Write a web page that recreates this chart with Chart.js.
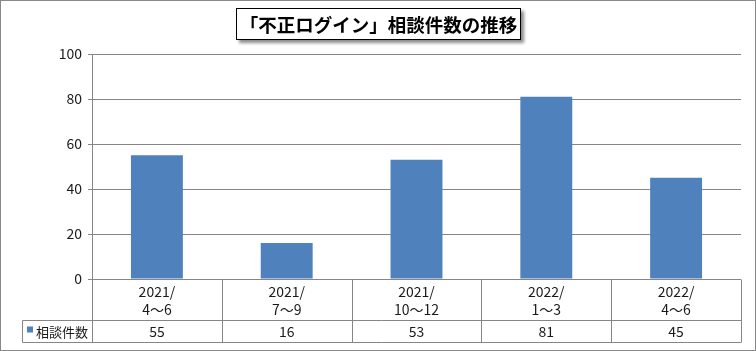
<!DOCTYPE html>
<html><head><meta charset="utf-8">
<script src="https://cdn.jsdelivr.net/npm/chart.js@4/dist/chart.umd.min.js"></script>
<style>
html,body{margin:0;padding:0;background:#fff;}
#wrap{position:relative;width:756px;height:351px;overflow:hidden;}
#c{position:absolute;left:0;top:0;}
#frame{position:absolute;left:0;top:0;width:754px;height:349px;border:1px solid #888;pointer-events:none;}
#title{position:absolute;left:236px;top:8px;width:283px;height:30px;border:1px solid #000;background:#fff;
  box-shadow:3px 3px 3px rgba(0,0,0,0.45);font:bold 18.5px "Noto Sans CJK JP",sans-serif;color:#000;
  text-align:center;line-height:30px;white-space:nowrap;}
</style></head>
<body>
<div id="wrap">
<canvas id="c" width="756" height="351"></canvas>
<div id="frame"></div>
<div id="title">「不正ログイン」相談件数の推移</div>
</div>
<script>
const categories = [["2021/","4～6"],["2021/","7～9"],["2021/","10～12"],["2022/","1～3"],["2022/","4～6"]];
const seriesName = "相談件数";
const values = [55, 16, 53, 81, 45];
const yMin = 0, yMax = 100, yStep = 20;

const BAR = '#4F81BD';
const LINE = '#868686';
const TXT = '#1a1a1a';
const FONT = '"Noto Sans CJK JP", sans-serif';

const tablePlugin = {
  id: 'dataTable',
  afterDraw(chart) {
    const ctx = chart.ctx;
    const xs = chart.scales.x;
    const ca = chart.chartArea;
    const n = categories.length;
    const w = (ca.right - ca.left) / n;
    const top = Math.round(ca.bottom) + 0.5;
    const mid = top + 41;
    const bot = top + 63;
    const legLeft = 22.5;
    ctx.save();
    ctx.strokeStyle = LINE;
    ctx.lineWidth = 1;
    ctx.beginPath();
    ctx.moveTo(ca.left, top); ctx.lineTo(ca.right, top);
    ctx.moveTo(legLeft, mid); ctx.lineTo(ca.right, mid);
    ctx.moveTo(legLeft, bot); ctx.lineTo(ca.right, bot);
    for (let i = 0; i <= n; i++) {
      const x = Math.round(ca.left + i * w) + 0.5;
      ctx.moveTo(x, top); ctx.lineTo(x, bot);
    }
    ctx.moveTo(legLeft, mid); ctx.lineTo(legLeft, bot);
    ctx.stroke();

    ctx.fillStyle = TXT;
    ctx.font = '14px ' + FONT;
    ctx.textAlign = 'center';
    ctx.textBaseline = 'middle';
    for (let i = 0; i < n; i++) {
      const cx = xs.getPixelForValue(i);
      ctx.fillText(categories[i][0], cx, top + 12.5);
      ctx.fillText(categories[i][1], cx, top + 30);
      ctx.fillText(String(values[i]), cx, mid + 11.5);
    }
    ctx.fillStyle = BAR;
    ctx.fillRect(27, mid + 6, 6, 6);
    ctx.fillStyle = TXT;
    ctx.font = '13px ' + FONT;
    ctx.textAlign = 'left';
    ctx.fillText(seriesName, 36, mid + 11.5);
    ctx.restore();
  }
};

new Chart(document.getElementById('c'), {
  type: 'bar',
  data: {
    labels: categories.map(c => c.join('')),
    datasets: [{
      label: seriesName,
      data: values,
      backgroundColor: BAR,
      borderWidth: 0,
      barPercentage: 0.4,
      categoryPercentage: 1.0
    }]
  },
  options: {
    responsive: false,
    animation: false,
    events: [],
    layout: { padding: { left: 0, right: 15, top: 54, bottom: 72 } },
    plugins: { legend: { display: false }, tooltip: { enabled: false }, title: { display: false } },
    scales: {
      x: {
        grid: { display: false },
        border: { display: false },
        ticks: { display: false },
        afterFit(s) { s.height = 0; }
      },
      y: {
        min: yMin, max: yMax,
        ticks: { stepSize: yStep, color: TXT, font: { family: FONT, size: 14 }, padding: 6 },
        grid: { color: LINE, tickLength: 4, drawTicks: true },
        border: { color: LINE },
        afterFit(s) { s.width = 92; }
      }
    }
  },
  plugins: [tablePlugin]
});
</script>
</body></html>
